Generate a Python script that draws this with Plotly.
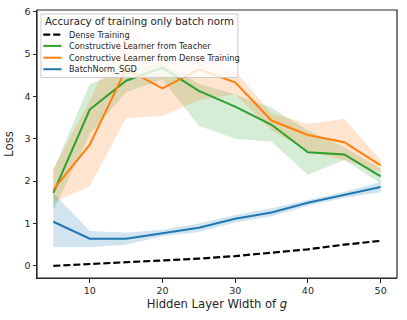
import plotly.graph_objects as go

# hidden layer widths
widths = [5, 10, 15, 20, 25, 30, 35, 40, 45, 50]

dense_loss = [0.0, 0.04, 0.08, 0.12, 0.17, 0.23, 0.31, 0.39, 0.50, 0.59]

teacher_loss = [1.72, 3.69, 4.37, 4.68, 4.13, 3.76, 3.33, 2.68, 2.63, 2.11]
teacher_lo = [1.30, 3.10, 4.10, 4.40, 3.31, 3.00, 2.93, 2.15, 2.50, 1.95]
teacher_hi = [2.25, 4.29, 4.60, 4.80, 4.30, 4.05, 3.73, 3.20, 2.80, 2.30]

dtrain_loss = [1.80, 2.86, 4.65, 4.19, 4.64, 4.33, 3.43, 3.09, 2.92, 2.37]
dtrain_lo = [1.50, 1.88, 3.49, 3.54, 3.91, 4.05, 3.20, 2.70, 2.50, 2.20]
dtrain_hi = [2.30, 3.90, 5.75, 4.80, 5.00, 4.60, 3.60, 3.35, 3.47, 2.50]

bn_loss = [1.04, 0.64, 0.64, 0.77, 0.90, 1.11, 1.26, 1.49, 1.67, 1.86]
bn_lo = [0.44, 0.44, 0.50, 0.70, 0.80, 1.02, 1.17, 1.42, 1.60, 1.74]
bn_hi = [1.72, 0.82, 0.78, 0.85, 1.00, 1.20, 1.36, 1.56, 1.75, 1.98]

legend_title = 'Accuracy of training only batch norm'
legend_names = ['Dense Training', 'Constructive Learner from Teacher',
                'Constructive Learner from Dense Training', 'BatchNorm_SGD']
legend_colors = ['black', '#2ca02c', '#ff7f0e', '#1f77b4']
legend_dash = ['dash', 'solid', 'solid', 'solid']

fig = go.Figure()


def add_band(lo, hi, fillcolor):
    fig.add_trace(go.Scatter(x=widths, y=lo, mode='lines', line=dict(width=0),
                             showlegend=False, hoverinfo='skip'))
    fig.add_trace(go.Scatter(x=widths, y=hi, mode='lines', line=dict(width=0),
                             fill='tonexty', fillcolor=fillcolor,
                             showlegend=False, hoverinfo='skip'))


add_band(teacher_lo, teacher_hi, 'rgba(44,160,44,0.2)')
add_band(dtrain_lo, dtrain_hi, 'rgba(255,127,14,0.2)')
add_band(bn_lo, bn_hi, 'rgba(31,119,180,0.2)')


def line_style(col, dash):
    if dash == 'dash':
        return dict(color=col, width=2.2, dash='7px,3px')
    return dict(color=col, width=2)


series = [dense_loss, teacher_loss, dtrain_loss, bn_loss]
for ys, name, col, dash in zip(series, legend_names, legend_colors, legend_dash):
    fig.add_trace(go.Scatter(x=widths, y=ys, mode='lines', name=name, showlegend=False,
                             line=line_style(col, dash)))

# axes frame
fig.add_shape(type='rect', xref='paper', yref='paper', x0=0, x1=1, y0=0, y1=1,
              line=dict(color='#262626', width=1.2))

# legend drawn by hand so the rows are as tight as matplotlib's
fig.add_shape(type='rect', xref='paper', yref='paper', x0=0.011, x1=0.558,
              y0=0.748, y1=0.985, fillcolor='rgba(255,255,255,0.8)',
              line=dict(color='#cccccc', width=1))
fig.add_annotation(text=legend_title, xref='paper', yref='paper', x=0.2845, y=0.958,
                   showarrow=False, xanchor='center', yanchor='middle',
                   font=dict(size=10.2, color='#262626'))
row_y = [0.908, 0.866, 0.822, 0.779]
for ry, name, col, dash in zip(row_y, legend_names, legend_colors, legend_dash):
    fig.add_shape(type='line', xref='paper', yref='paper', x0=0.0174, x1=0.0682,
                  y0=ry, y1=ry, line=line_style(col, dash))
    fig.add_annotation(text=name, xref='paper', yref='paper', x=0.082, y=ry,
                       showarrow=False, xanchor='left', yanchor='middle',
                       font=dict(size=8.2, color='#262626'))

axis_style = dict(showline=True, linecolor='#262626', linewidth=1,
                  showgrid=False, zeroline=False, ticks='outside', ticklen=3.5,
                  tickcolor='#262626', tickfont=dict(size=9.5, color='#262626'),
                  ticklabeloverflow='allow', automargin=False)

fig.update_xaxes(range=[2.75, 52.25], tickvals=[10, 20, 30, 40, 50],
                 title=dict(text='Hidden Layer Width of <i>g</i>', font=dict(size=11.6),
                            standoff=4),
                 **axis_style)
fig.update_yaxes(range=[-0.2875, 6.04], tickvals=[0, 1, 2, 3, 4, 5, 6],
                 title=dict(text='Loss', font=dict(size=11.8), standoff=8),
                 **axis_style)

fig.update_layout(
    width=407, height=320,
    margin=dict(l=37, r=10, t=10, b=42),
    paper_bgcolor='white', plot_bgcolor='white',
    font=dict(family='DejaVu Sans', color='#262626'),
    showlegend=False,
)

# no body margin and no scrollbars, so the figure fills the window exactly
page_js = ("document.body.style.margin = '0';"
           "document.body.style.overflow = 'hidden';"
           "document.documentElement.style.overflow = 'hidden';"
           "window.scrollTo(0, 0);")
fig.write_html("out.html", config={'displayModeBar': False}, post_script=page_js)
